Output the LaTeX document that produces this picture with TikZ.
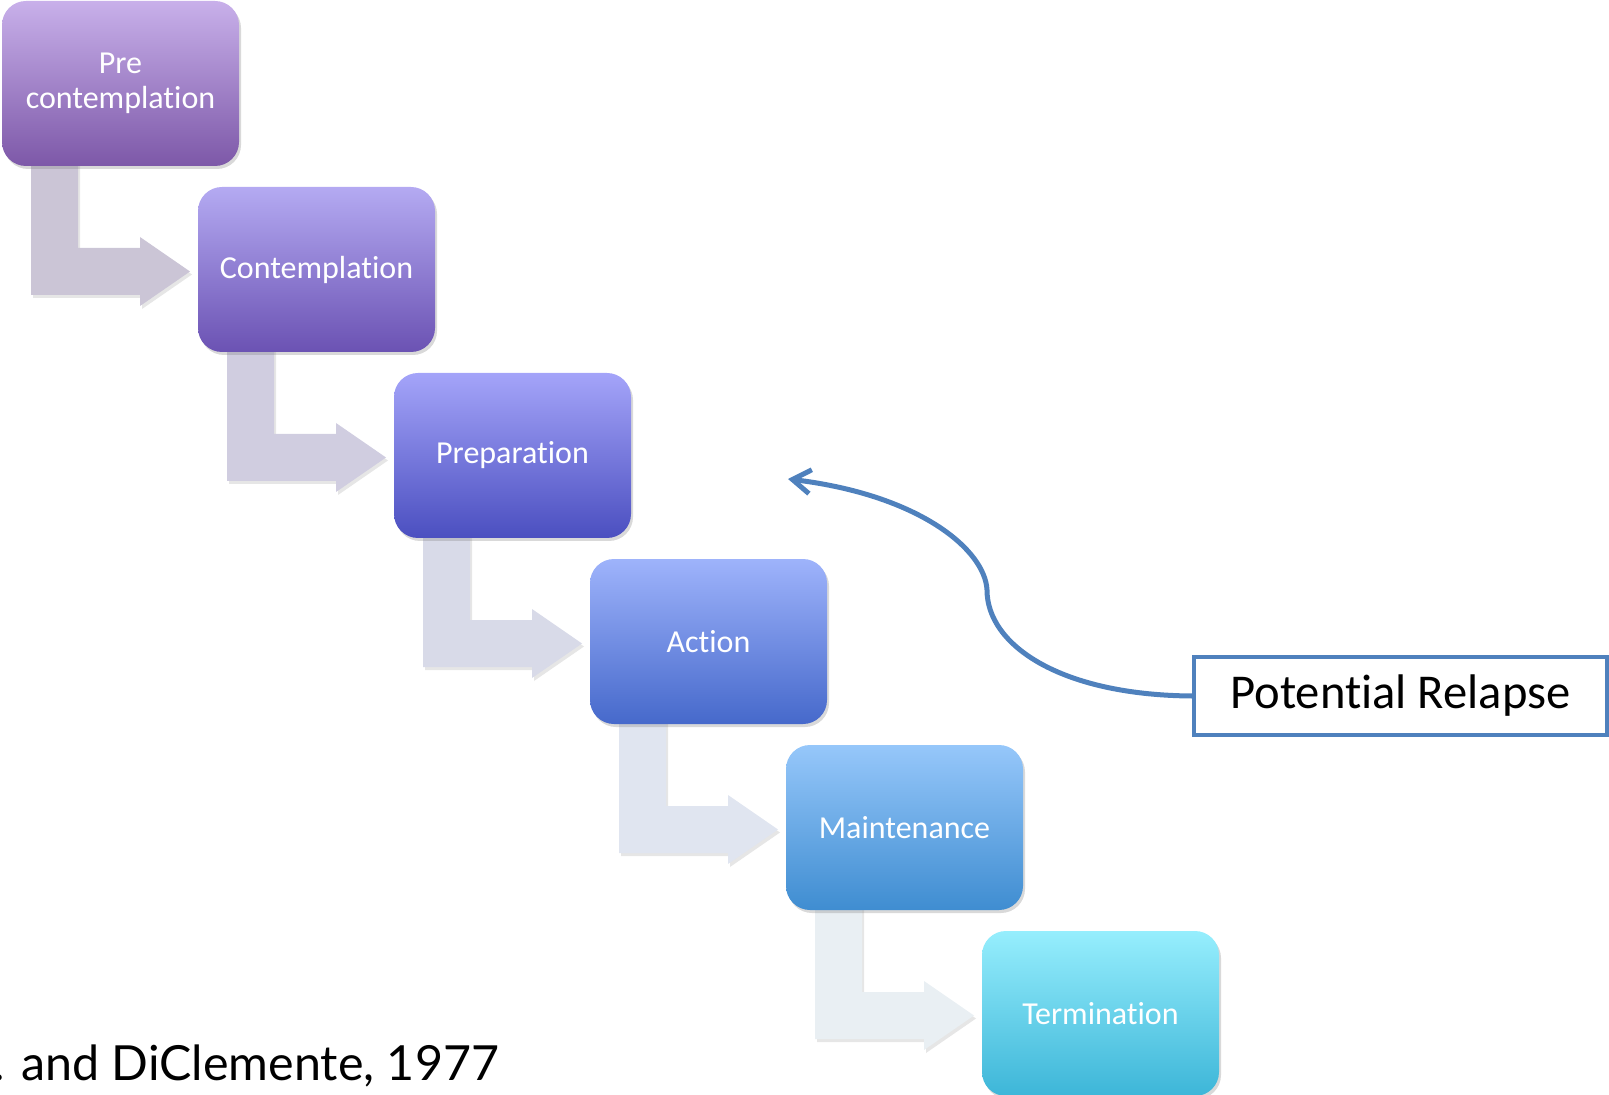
\documentclass[tikz,border=0pt]{standalone}
\usepackage{fontspec}
\setmainfont{Carlito}
\newfontfamily\citefont{Lato}
\usepackage{tikz}
\usetikzlibrary{arrows.meta, positioning, calc, shadows}

\definecolor{relapseblue}{HTML}{4F81BD}
% keep t and i apart (Carlito joins them otherwise)
\newcommand{\tsep}{\kern0pt}

\begin{document}
\begin{tikzpicture}[x=0.5pt, y=-0.5pt,
    stage/.style={rounded corners=12pt, minimum width=118.5pt, minimum height=82.5pt,
        inner sep=0pt, align=center, text=white, font=\fontsize{16}{17.5}\selectfont,
        drop shadow={opacity=0.3, shadow xshift=1pt, shadow yshift=-1.5pt}},
    bendshadow/.style={drop shadow={opacity=0.2, shadow xshift=1pt, shadow yshift=-1.5pt}}
]

    \useasboundingbox (0,0) rectangle (1609,1095);

    % Bent arrows from one stage to the next (drawn first, behind the boxes)
    \foreach \i/\col in {0/CBC5D6, 1/D0CDE0, 2/D8DAE8, 3/E0E5F0, 4/E9EFF3} {
        \definecolor{bendcol}{HTML}{\col}
        \begin{scope}[shift={(2+196*\i, 1+186*\i)}]
            \fill[bendcol, bendshadow] (29,150) -- (76,150) -- (76,247) -- (138,247)
                -- (138,236) -- (188,270.5) -- (138,305) -- (138,294) -- (29,294) -- cycle;
        \end{scope}
    }

    % The six stages
    \node[stage, top color={rgb,255:red,200;green,176;blue,234}, bottom color={rgb,255:red,125;green,88;blue,168}]
        (pre) at (120.5,83.5) {Pre\\contemplat\tsep ion};
    \node[stage, top color={rgb,255:red,180;green,170;blue,242}, bottom color={rgb,255:red,107;green,82;blue,179}]
        (contemp) at (316.5,269.5) {Contemplat\tsep ion};
    \node[stage, top color={rgb,255:red,164;green,164;blue,249}, bottom color={rgb,255:red,75;green,79;blue,192}]
        (prep) at (512.5,455.5) {Preparat\tsep ion};
    \node[stage, top color={rgb,255:red,158;green,179;blue,251}, bottom color={rgb,255:red,70;green,105;blue,203}]
        (action) at (708.5,641.5) {Act\tsep ion};
    \node[stage, top color={rgb,255:red,150;green,199;blue,250}, bottom color={rgb,255:red,63;green,141;blue,209}]
        (maint) at (904.5,827.5) {Maintenance};
    \node[stage, top color={rgb,255:red,150;green,238;blue,253}, bottom color={rgb,255:red,61;green,182;blue,216}]
        (term) at (1100.5,1013.5) {Terminat\tsep ion};

    % Relapse box and the arrow back to preparation
    \node[draw=relapseblue, line width=2pt, fill=white, minimum width=206.5pt, minimum height=39pt,
        font=\fontsize{24.3}{28}\selectfont] (relapse) at (1400.5,696) {Potent\tsep ial Relapse};
    \coordinate (back) at (788,479);
    \draw[relapseblue, line width=2.5pt, -{Straight Barb[length=9pt, width=12pt]}]
        (relapse.west) .. controls (1060,695) and (987,645) .. (987,590)
        .. controls (985,550) and (920,495) .. (back);

    % Source, cut at the left edge
    \node[anchor=base west, inner sep=0pt, font=\citefont\fontsize{24.2}{30}\selectfont]
        (cite) at (-7,1080) {. and DiClemente, 1977};

\end{tikzpicture}
\end{document}
